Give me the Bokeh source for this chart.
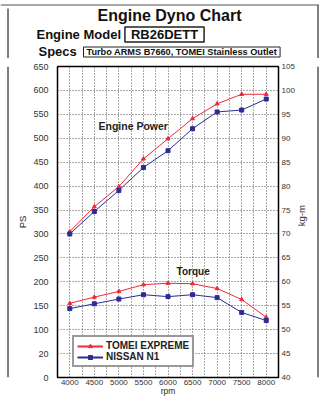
import math
from bokeh.plotting import figure
from bokeh.layouts import column, row
from bokeh.models import (Range1d, LinearAxis, FixedTicker, Label, Legend,
                          LegendItem, ColumnDataSource)
from bokeh.embed import file_html
from bokeh.resources import INLINE

# ---- data ----
rpm = [4000, 4500, 5000, 5500, 6000, 6500, 7000, 7500, 8000]
tomei_ps = [305, 357, 399, 457, 499, 541, 572, 592, 592]
n1_ps = [300, 347, 391, 439, 474, 520, 555, 559, 582]
tomei_tq = [55.5, 56.8, 58.0, 59.4, 59.7, 59.6, 58.6, 56.3, 52.6]
n1_tq = [54.4, 55.4, 56.4, 57.3, 56.9, 57.3, 56.7, 53.6, 51.9]

rpm_ticks = [4000, 4500, 5000, 5500, 6000, 6500, 7000, 7500, 8000]
ps_ticks = list(range(0, 651, 50))
tq_ticks = list(range(40, 106, 5))
series_names = ["TOMEI EXPREME", "NISSAN N1"]

RED = "#f0283a"
BLUE = "#2c2c94"
FONT = "Liberation Sans"
INK = "#111111"
AXC = "#2a2a2a"

PAGE_W, PAGE_H = 319, 398
HEAD_H = 58
LEFT_W = 9
RIGHT_X = 297                      # right strip starts here (absolute px)
RIGHT_W = PAGE_W - RIGHT_X
MAIN_W = RIGHT_X - LEFT_W
MAIN_H = PAGE_H - HEAD_H


def blank(w, h):
    f = figure(width=w, height=h, output_backend="svg", toolbar_location=None,
               x_range=Range1d(0, w), y_range=Range1d(h, 0),
               min_border=0, min_border_left=0, min_border_right=0,
               min_border_top=0, min_border_bottom=0)
    f.axis.visible = False
    f.grid.visible = False
    f.outline_line_color = None
    f.background_fill_color = "white"
    f.border_fill_color = "white"
    return f


# ---- header ----
head = blank(PAGE_W, HEAD_H)
head.segment(x0=[0], y0=[4.5], x1=[PAGE_W], y1=[4.5], line_color="#8a8a8a", line_width=1.5)
head.segment(x0=[7.5, 317.5], y0=[8, 5], x1=[7.5, 317.5], y1=[HEAD_H, HEAD_H],
             line_color="black", line_width=1)
head.add_layout(Label(x=169, y=15, text="Engine Dyno Chart", text_align="center",
                      text_baseline="middle", text_font=FONT, text_font_size="16px",
                      text_font_style="bold", text_color=INK))
head.add_layout(Label(x=36, y=33.5, text="Engine Model", text_align="left",
                      text_baseline="middle", text_font=FONT, text_font_size="13px",
                      text_font_style="bold", text_color=INK))
head.add_layout(Label(x=164, y=34, text="RB26DETT", text_align="center",
                      text_baseline="middle", text_font=FONT, text_font_size="13px",
                      text_font_style="bold", text_color=INK,
                      border_line_color="#222222", border_line_width=1.5,
                      padding=dict(left=6, right=6, top=0, bottom=0)))
head.add_layout(Label(x=38, y=51, text="Specs", text_align="left",
                      text_baseline="middle", text_font=FONT, text_font_size="13px",
                      text_font_style="bold", text_color=INK))
head.add_layout(Label(x=83, y=51.5, text="Turbo ARMS B7660, TOMEI Stainless Outlet",
                      text_align="left", text_baseline="middle", text_font=FONT,
                      text_font_size="9.2px", text_font_style="bold", text_color=INK,
                      border_line_color="#222222", border_line_width=1,
                      padding=dict(left=3, right=3, top=0, bottom=0)))

# ---- side strips ----
lstrip = blank(LEFT_W, MAIN_H)
lstrip.segment(x0=[7.5], y0=[0], x1=[7.5], y1=[MAIN_H], line_color="black", line_width=1)
rstrip = blank(RIGHT_W, MAIN_H)
rstrip.segment(x0=[317.5 - RIGHT_X], y0=[0], x1=[317.5 - RIGHT_X], y1=[MAIN_H],
               line_color="black", line_width=1)
rstrip.add_layout(Label(x=300.5 - RIGHT_X, y=221 - HEAD_H, text="kg-m", angle=math.pi / 2,
                        text_align="center", text_baseline="middle", text_font=FONT,
                        text_font_size="9.5px", text_color=AXC))

# ---- main chart ----
FR_L, FR_R, FR_T, FR_B = 57, 278, 66, 377   # absolute page pixels
p = figure(width=MAIN_W, height=MAIN_H, output_backend="svg", toolbar_location=None,
           x_range=Range1d(3750, 8250), y_range=Range1d(0, 650),
           min_border_left=FR_L - LEFT_W, min_border_right=RIGHT_X - FR_R,
           min_border_top=FR_T - HEAD_H, min_border_bottom=PAGE_H - FR_B)
p.extra_y_ranges = {"tq": Range1d(40, 105)}
p.background_fill_color = "white"
p.border_fill_color = "white"
p.outline_line_color = "black"
p.outline_line_width = 1.5


def style_axis(ax, size):
    ax.axis_line_color = None
    ax.major_tick_line_color = None
    ax.minor_tick_line_color = None
    ax.major_tick_out = 0
    ax.major_tick_in = 0
    ax.major_label_text_font = FONT
    ax.major_label_text_font_size = size
    ax.major_label_text_color = "#333333"
    ax.axis_label_text_font = FONT
    ax.axis_label_text_font_size = "9.5px"
    ax.axis_label_text_font_style = "normal"
    ax.axis_label_text_color = AXC


xa = p.xaxis[0]
xa.ticker = FixedTicker(ticks=rpm_ticks)
xa.axis_label = "rpm"
style_axis(xa, "8px")
xa.axis_label_text_font_size = "8.5px"
xa.major_label_standoff = 2
xa.axis_label_standoff = -2

ya = p.yaxis[0]
ya.ticker = FixedTicker(ticks=ps_ticks)
ya.major_label_overrides = {50: "20"}
ya.axis_label = "PS"
style_axis(ya, "9px")
ya.major_label_standoff = 9
ya.axis_label_standoff = 2

ra = LinearAxis(y_range_name="tq", ticker=FixedTicker(ticks=tq_ticks))
style_axis(ra, "8px")
ra.major_label_standoff = 3
p.add_layout(ra, "right")

p.xgrid.ticker = FixedTicker(ticks=list(range(4000, 8001, 250)))
p.ygrid.ticker = FixedTicker(ticks=ps_ticks)
for g in (p.xgrid, p.ygrid):
    g.grid_line_color = "#555555"
    g.grid_line_dash = "1 2"
    g.grid_line_width = 1

src = ColumnDataSource(dict(rpm=rpm, tps=tomei_ps, nps=n1_ps, ttq=tomei_tq, ntq=n1_tq))
p.line("rpm", "tps", source=src, color=RED, line_width=1)
p.scatter("rpm", "tps", source=src, marker="triangle", size=4, color=RED)
p.line("rpm", "nps", source=src, color=BLUE, line_width=1)
p.scatter("rpm", "nps", source=src, marker="square", size=4, color=BLUE)
p.line("rpm", "ttq", source=src, color=RED, line_width=1, y_range_name="tq")
p.scatter("rpm", "ttq", source=src, marker="triangle", size=4, color=RED, y_range_name="tq")
p.line("rpm", "ntq", source=src, color=BLUE, line_width=1, y_range_name="tq")
p.scatter("rpm", "ntq", source=src, marker="square", size=4, color=BLUE, y_range_name="tq")

# legend icons (larger markers than on the chart); NaN data draws nothing in the plot
nan_src = ColumnDataSource(dict(x=[math.nan], y=[math.nan]))
lr1 = p.line("x", "y", source=nan_src, color=RED, line_width=2)
sr1 = p.scatter("x", "y", source=nan_src, marker="triangle", size=9, color=RED)
lr2 = p.line("x", "y", source=nan_src, color=BLUE, line_width=2)
sr2 = p.scatter("x", "y", source=nan_src, marker="square", size=8, color=BLUE)
legend = Legend(items=[LegendItem(label=series_names[0], renderers=[lr1, sr1]),
                       LegendItem(label=series_names[1], renderers=[lr2, sr2])],
                location=(15, 10), orientation="vertical",
                label_text_font=FONT, label_text_font_size="10px",
                label_text_font_style="bold", label_text_color="#222222",
                glyph_width=26, glyph_height=10, label_height=10, label_standoff=3,
                spacing=0, padding=3, margin=0,
                border_line_color="#333333", border_line_width=2,
                background_fill_color="white", background_fill_alpha=1)
p.add_layout(legend)

# in-chart captions (left edge x in rpm, y in PS units)
p.add_layout(Label(x=4585, y=525, text="Engine Power", text_align="left",
                   text_baseline="middle", text_font=FONT, text_font_size="10.5px",
                   text_font_style="bold", text_color="#222222"))
p.add_layout(Label(x=6175, y=222, text="Torque", text_align="left",
                   text_baseline="middle", text_font=FONT, text_font_size="10px",
                   text_font_style="bold", text_color="#222222"))

layout = column(head, row(lstrip, p, rstrip, spacing=0), spacing=0)
open("out.html", "w").write(file_html(layout, INLINE))
